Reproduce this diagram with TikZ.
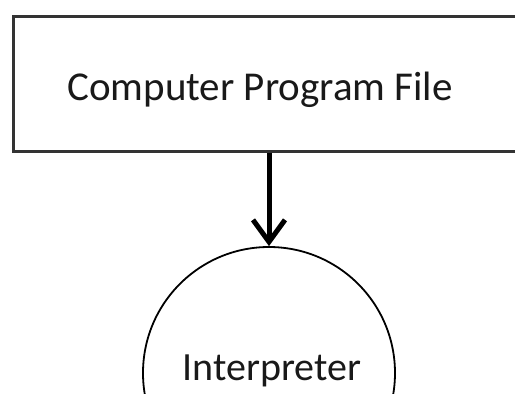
\documentclass[tikz,border=0pt]{standalone}
\usepackage{fontspec}
\setmainfont{Carlito}
\usetikzlibrary{arrows.meta}
\begin{document}
\begin{tikzpicture}[x=1pt,y=-1pt,
  boxstyle/.style={draw=black!80, line width=3pt, minimum width=520pt, minimum height=135pt, inner sep=0pt},
  circstyle/.style={draw=black, line width=1.8pt, circle, minimum size=252pt, inner sep=0pt},
  labelstyle/.style={font=\fontsize{41}{46}\selectfont, text=black!90, inner sep=0pt, anchor=base},
  flow/.style={line width=5pt, -{Straight Barb[length=22pt, width=32pt, line width=5pt]}}]
\useasboundingbox (0,0) rectangle (515,394);
\clip (0,0) rectangle (515,394);
\fill[white] (0,0) rectangle (515,394);
\node[boxstyle] (prog) at (273.5,83.5) {};
\node[labelstyle] (progtext) at (260,100) {Computer Program File};
\node[circstyle] (interp) at (269,373) {};
\node[labelstyle, font=\fontsize{40}{46}\selectfont] (interptext) at (272,380) {Interpreter};
\draw[flow] (interp.north |- prog.south) -- (interp.north);
\end{tikzpicture}
\end{document}
